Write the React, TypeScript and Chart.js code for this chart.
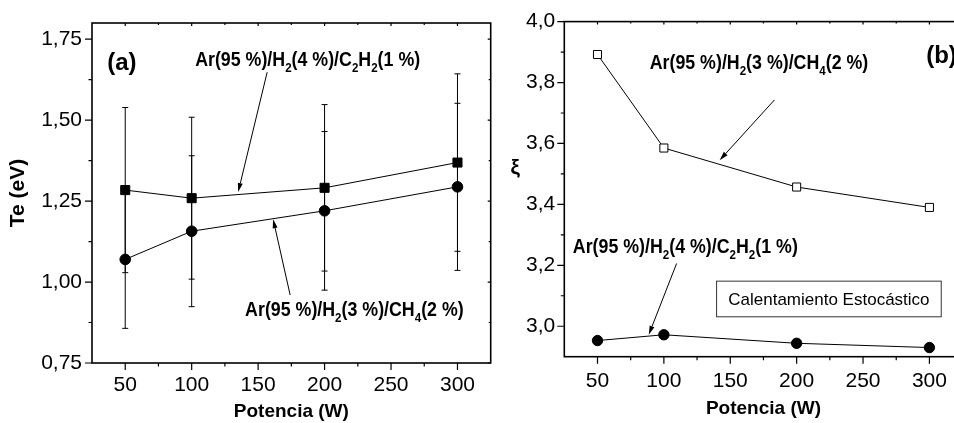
import React, { useEffect, useRef } from "react";
import { Chart, registerables } from "chart.js";
Chart.register(...registerables);

// ---------- data ----------
const powers = [50, 100, 200, 300];
const teC2H2 = [1.284, 1.259, 1.291, 1.369];
const teC2H2Err = [0.255, 0.25, 0.257, 0.274];
const teCH4 = [1.07, 1.157, 1.22, 1.294];
const teCH4Err = [0.213, 0.233, 0.245, 0.258];
const xiCH4 = [3.892, 3.585, 3.457, 3.39];
const xiC2H2 = [2.953, 2.972, 2.944, 2.93];

const xTicks = [50, 100, 150, 200, 250, 300];
const xMinorTicks = [75, 125, 175, 225, 275];
const teTicks = [0.75, 1.0, 1.25, 1.5, 1.75];
const teMinorTicks = [0.875, 1.125, 1.375, 1.625];
const xiTicks = [3.0, 3.2, 3.4, 3.6, 3.8, 4.0];
const xiMinorTicks = [3.1, 3.3, 3.5, 3.7, 3.9];

type Seg = [string, boolean];
const labelC2H2: Seg[] = [["Ar(95 %)/H", false], ["2", true], ["(4 %)/C", false], ["2", true], ["H", false], ["2", true], ["(1 %)", false]];
const labelCH4: Seg[] = [["Ar(95 %)/H", false], ["2", true], ["(3 %)/CH", false], ["4", true], ["(2 %)", false]];

const FAMILY = '"Liberation Sans", Arial, Helvetica, sans-serif';

// ---------- helpers ----------
function drawRich(ctx: CanvasRenderingContext2D, segs: Seg[], x: number, y: number) {
  ctx.save();
  ctx.translate(x, y);
  ctx.scale(0.89, 1);
  ctx.fillStyle = "#000";
  ctx.textAlign = "left";
  ctx.textBaseline = "alphabetic";
  let cx = 0;
  for (const [t, sub] of segs) {
    ctx.font = `bold ${sub ? 13 : 20}px ${FAMILY}`;
    ctx.fillText(t, cx, sub ? 6 : 0);
    cx += ctx.measureText(t).width;
  }
  ctx.restore();
}

function drawArrow(ctx: CanvasRenderingContext2D, x1: number, y1: number, x2: number, y2: number) {
  ctx.save();
  ctx.strokeStyle = "#000";
  ctx.fillStyle = "#000";
  ctx.lineWidth = 1;
  const ang = Math.atan2(y2 - y1, x2 - x1);
  const L = 9, W = 2.5;
  const bx = x2 - L * Math.cos(ang), by = y2 - L * Math.sin(ang);
  ctx.beginPath();
  ctx.moveTo(x1, y1);
  ctx.lineTo(bx, by);
  ctx.stroke();
  ctx.beginPath();
  ctx.moveTo(x2, y2);
  ctx.lineTo(bx + W * Math.sin(ang), by - W * Math.cos(ang));
  ctx.lineTo(bx - W * Math.sin(ang), by + W * Math.cos(ang));
  ctx.closePath();
  ctx.fill();
  ctx.restore();
}

function framePlugin(xMaj: number[], xMin: number[], yMaj: number[], yMin: number[]) {
  return {
    id: "frame",
    afterDraw(chart: any) {
      const { ctx, chartArea: a, scales } = chart;
      const x = scales.x, y = scales.y;
      ctx.save();
      ctx.strokeStyle = "#000";
      ctx.lineWidth = 1.6;
      ctx.strokeRect(a.left, a.top, a.right - a.left, a.bottom - a.top);
      ctx.lineWidth = 1.2;
      ctx.beginPath();
      const t = (x1: number, y1: number, x2: number, y2: number) => { ctx.moveTo(x1, y1); ctx.lineTo(x2, y2); };
      for (const v of xMaj) { const p = x.getPixelForValue(v); t(p, a.bottom, p, a.bottom + 7); t(p, a.top, p, a.top + 3); }
      for (const v of xMin) { const p = x.getPixelForValue(v); t(p, a.bottom, p, a.bottom + 3.5); t(p, a.top, p, a.top + 2); }
      for (const v of yMaj) { const p = y.getPixelForValue(v); t(a.left, p, a.left - 7, p); t(a.right, p, a.right - 3, p); }
      for (const v of yMin) { const p = y.getPixelForValue(v); t(a.left, p, a.left - 3.5, p); t(a.right, p, a.right - 2, p); }
      ctx.stroke();
      ctx.restore();
    },
  };
}

const errorBarPlugin = {
  id: "errbars",
  beforeDatasetsDraw(chart: any) {
    const { ctx, scales } = chart;
    const y = scales.y;
    ctx.save();
    ctx.strokeStyle = "#000";
    ctx.lineWidth = 1;
    chart.data.datasets.forEach((ds: any, i: number) => {
      if (!ds.errors) return;
      const meta = chart.getDatasetMeta(i);
      meta.data.forEach((pt: any, j: number) => {
        const v = ds.data[j].y, e = ds.errors[j];
        const top = y.getPixelForValue(v + e), bot = y.getPixelForValue(v - e);
        ctx.beginPath();
        ctx.moveTo(pt.x, top); ctx.lineTo(pt.x, bot);
        ctx.moveTo(pt.x - 3, top); ctx.lineTo(pt.x + 3, top);
        ctx.moveTo(pt.x - 3, bot); ctx.lineTo(pt.x + 3, bot);
        ctx.stroke();
      });
    });
    ctx.restore();
  },
};

function series(ys: number[]) {
  return powers.map((p, i) => ({ x: p, y: ys[i] }));
}

function baseScales(opts: {
  yMin: number; yMax: number; yTickVals: number[]; yDec: number; yWidth: number; xHeight: number;
  xPad: number; yPad: number; yTitle?: string; xTitlePadBottom: number;
}) {
  return {
    x: {
      type: "linear",
      min: 25,
      max: 325,
      afterBuildTicks: (s: any) => { s.ticks = xTicks.map((v) => ({ value: v })); },
      afterFit: (s: any) => { s.height = opts.xHeight; },
      grid: { display: false, drawTicks: false, tickLength: 0 },
      border: { display: false },
      ticks: {
        color: "#000",
        font: { size: 21, family: FAMILY },
        padding: opts.xPad,
        maxRotation: 0,
        autoSkip: false,
        callback: (v: any) => String(v),
      },
      title: {
        display: true,
        text: "Potencia (W)",
        color: "#000",
        font: { size: 19, weight: "bold", family: FAMILY },
        padding: { top: 0, bottom: opts.xTitlePadBottom },
      },
    },
    y: {
      type: "linear",
      min: opts.yMin,
      max: opts.yMax,
      afterBuildTicks: (s: any) => { s.ticks = opts.yTickVals.map((v) => ({ value: v })); },
      afterFit: (s: any) => { s.width = opts.yWidth; },
      grid: { display: false, drawTicks: false, tickLength: 0 },
      border: { display: false },
      ticks: {
        color: "#000",
        font: { size: 21, family: FAMILY },
        padding: opts.yPad,
        autoSkip: false,
        callback: (v: any) => Number(v).toFixed(opts.yDec).replace(".", ","),
      },
      title: opts.yTitle
        ? {
            display: true,
            text: opts.yTitle,
            color: "#000",
            font: { size: 21, weight: "bold", family: FAMILY },
            padding: { top: 6, bottom: 0 },
          }
        : { display: false },
    },
  };
}

function lineDs(ys: number[], style: string, radius: number, fill: string, errors?: number[]) {
  return {
    data: series(ys),
    showLine: true,
    borderColor: "#000",
    borderWidth: 1,
    tension: 0,
    pointStyle: style,
    pointRadius: radius,
    pointBackgroundColor: fill,
    pointBorderColor: "#000",
    pointBorderWidth: 1,
    errors,
  };
}

export default function App() {
  const leftRef = useRef<HTMLCanvasElement>(null);
  const rightRef = useRef<HTMLCanvasElement>(null);

  useEffect(() => {
    document.body.style.margin = "0";

    const leftAnnot = {
      id: "annotLeft",
      afterDraw(chart: any) {
        const { ctx, scales } = chart;
        const X = (v: number) => scales.x.getPixelForValue(v);
        const Y = (v: number) => scales.y.getPixelForValue(v);
        ctx.save();
        ctx.fillStyle = "#000";
        ctx.font = `bold 24px ${FAMILY}`;
        ctx.textAlign = "left";
        ctx.textBaseline = "alphabetic";
        ctx.fillText("(a)", X(36.5), Y(1.656));
        ctx.restore();
        drawRich(ctx, labelC2H2, X(102.6), Y(1.666));
        drawArrow(ctx, X(156.8), Y(1.648), X(135.0), Y(1.278));
        drawRich(ctx, labelCH4, X(140.2), Y(0.895));
        drawArrow(ctx, X(174.1), Y(0.96), X(161.3), Y(1.194));
      },
    };

    const rightAnnot = {
      id: "annotRight",
      afterDraw(chart: any) {
        const { ctx, scales, chartArea } = chart;
        const X = (v: number) => scales.x.getPixelForValue(v);
        const Y = (v: number) => scales.y.getPixelForValue(v);
        ctx.save();
        ctx.fillStyle = "#000";
        ctx.font = `bold 24px ${FAMILY}`;
        ctx.textAlign = "left";
        ctx.textBaseline = "alphabetic";
        ctx.fillText("(b)", X(297.6), Y(3.863));
        ctx.font = `bold 21px ${FAMILY}`;
        ctx.textAlign = "center";
        ctx.textBaseline = "middle";
        ctx.fillText("ξ", chartArea.left - 49, Y(3.519));
        // box
        const bx1 = X(139.7), bx2 = X(308.9), by1 = Y(3.148), by2 = Y(3.031);
        ctx.strokeStyle = "#333";
        ctx.lineWidth = 1;
        ctx.strokeRect(bx1, by1, bx2 - bx1, by2 - by1);
        ctx.font = `17px ${FAMILY}`;
        ctx.fillStyle = "#000";
        ctx.fillText("Calentamiento Estocástico", (bx1 + bx2) / 2, (by1 + by2) / 2 + 1);
        ctx.restore();
        drawRich(ctx, labelCH4, X(89.3), Y(3.845));
        drawArrow(ctx, X(183.3), Y(3.743), X(142.0), Y(3.545));
        drawRich(ctx, labelC2H2, X(31.4), Y(3.242));
        drawArrow(ctx, X(109.6), Y(3.206), X(88.6), Y(2.972));
      },
    };

    const c1 = new Chart(leftRef.current as HTMLCanvasElement, {
      type: "scatter",
      data: {
        datasets: [
          lineDs(teCH4, "circle", 5.3, "#000", teCH4Err) as any,
          lineDs(teC2H2, "rect", 6.4, "#000", teC2H2Err) as any,
        ],
      },
      options: {
        responsive: false,
        animation: false,
        layout: { padding: { left: 0, top: 23, right: 9.3, bottom: 0 } },
        plugins: { legend: { display: false }, tooltip: { enabled: false } },
        scales: baseScales({
          yMin: 0.75, yMax: 1.8, yTickVals: teTicks, yDec: 2, yWidth: 92, xHeight: 60,
          xPad: 10, yPad: 10, yTitle: "Te (eV)", xTitlePadBottom: 0,
        }) as any,
      },
      plugins: [errorBarPlugin, framePlugin(xTicks, xMinorTicks, teTicks, teMinorTicks), leftAnnot],
    } as any);

    const c2 = new Chart(rightRef.current as HTMLCanvasElement, {
      type: "scatter",
      data: {
        datasets: [
          lineDs(xiCH4, "rect", 5.7, "#fff") as any,
          lineDs(xiC2H2, "circle", 5.2, "#000") as any,
        ],
      },
      options: {
        responsive: false,
        animation: false,
        layout: { padding: { left: 0, top: 19, right: 7.4, bottom: 0 } },
        plugins: { legend: { display: false }, tooltip: { enabled: false } },
        scales: baseScales({
          yMin: 2.9, yMax: 4.0, yTickVals: xiTicks, yDec: 1, yWidth: 64.3, xHeight: 66.3,
          xPad: 12, yPad: 9, xTitlePadBottom: 3,
        }) as any,
      },
      plugins: [framePlugin(xTicks, xMinorTicks, xiTicks, xiMinorTicks), rightAnnot],
    } as any);

    return () => {
      c1.destroy();
      c2.destroy();
    };
  }, []);

  return (
    <div style={{ position: "fixed", left: 0, top: 0, width: 954, height: 423, overflow: "hidden", background: "#fff" }}>
      <canvas ref={leftRef} width={500} height={423} style={{ position: "absolute", left: 0, top: 0, width: 500, height: 423 }} />
      <canvas ref={rightRef} width={470} height={423} style={{ position: "absolute", left: 500, top: 0, width: 470, height: 423 }} />
    </div>
  );
}
